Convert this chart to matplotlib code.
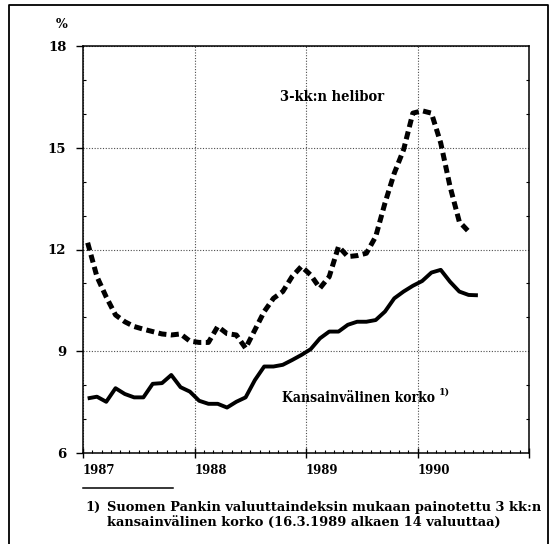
import numpy as np
import matplotlib
matplotlib.use("Agg")
import matplotlib.pyplot as plt
from matplotlib.lines import Line2D
from matplotlib.ticker import MultipleLocator

# Monthly averages, Jan 1987 onwards (%)
helibor = [12.2, 11.2, 10.6, 10.07, 9.87, 9.73, 9.65, 9.58, 9.51, 9.48, 9.51, 9.3,
           9.26, 9.26, 9.73, 9.52, 9.48, 9.09, 9.63, 10.17, 10.56, 10.76, 11.2, 11.5,
           11.25, 10.86, 11.2, 12.09, 11.79, 11.82, 11.89, 12.38, 13.37, 14.25, 14.94, 16.02,
           16.09, 16.02, 15.14, 13.86, 12.82, 12.53]
kansainvalinen = [7.61, 7.66, 7.51, 7.91, 7.74, 7.64, 7.64, 8.04, 8.06, 8.3, 7.94, 7.81,
                  7.54, 7.45, 7.45, 7.34, 7.51, 7.64, 8.15, 8.55, 8.55, 8.6, 8.74, 8.89,
                  9.06, 9.38, 9.58, 9.58, 9.78, 9.87, 9.87, 9.92, 10.17, 10.56, 10.76, 10.93,
                  11.07, 11.32, 11.4, 11.05, 10.76, 10.66, 10.65]
years = [1987, 1988, 1989, 1990]
y_ticks = [6, 9, 12, 15, 18]

def month_x(values):
    # plot each monthly value at the middle of its month
    return 1987 + (np.arange(len(values)) + 0.5) / 12

serif = "DejaVu Serif"
W, H = 554, 544
fig = plt.figure(figsize=(W / 100, H / 100), dpi=100)
ax = fig.add_axes([83 / W, 1 - 453 / H, 446 / W, 407 / H])

ax.plot(month_x(helibor), helibor, color="black", lw=3.6,
        linestyle=(0, (1.6, 0.9)), dash_capstyle="butt", solid_joinstyle="round")
ax.plot(month_x(kansainvalinen), kansainvalinen, color="black", lw=2.8,
        solid_joinstyle="round", solid_capstyle="butt")

ax.set_xlim(1987, 1991)
ax.set_ylim(6, 18)
ax.set_xticks(years + [1991])
ax.set_xticklabels([str(y) for y in years] + [""], fontfamily=serif,
                   fontweight="bold", fontsize=8.5, ha="left")
ax.xaxis.set_minor_locator(MultipleLocator(1 / 12))
ax.set_yticks(y_ticks)
ax.set_yticklabels([str(v) for v in y_ticks], fontfamily=serif,
                   fontweight="bold", fontsize=9.5)
ax.yaxis.set_minor_locator(MultipleLocator(1))

ax.tick_params(axis="x", which="major", direction="inout", length=6.5, width=1, pad=5)
ax.tick_params(axis="x", which="minor", direction="in", length=2.2, width=0.8)
ax.tick_params(axis="y", which="major", direction="out", length=5, width=1, pad=7)
ax.tick_params(axis="y", which="minor", direction="in", length=2.2, width=0.8,
               right=True)
# nudge the year labels a little to the right of their ticks
for lab in ax.get_xticklabels():
    lab.set_x(lab.get_position()[0] + 0.015)

ax.grid(True, which="major", color="0.3", lw=0.8, linestyle=(0, (1, 1.5)))
for sp in ax.spines.values():
    sp.set_linewidth(1.1)

ax.text(1988.77, 16.5, "3-kk:n helibor", fontfamily=serif, fontstretch="condensed",
        fontweight="bold", fontsize=10.5, va="center", ha="left")
ax.text(1988.785, 7.62, "Kansainvälinen korko", fontfamily=serif,
        fontstretch="condensed", fontweight="bold", fontsize=10,
        va="center", ha="left")
ax.text(1990.19, 7.8, "1)", fontfamily=serif, fontweight="bold", fontsize=7,
        va="center", ha="left")

fig.text(62 / W, 1 - 24 / H, "%", fontfamily=serif, fontweight="bold",
         fontsize=9, ha="center", va="center")

# footnote with its short rule
fig.add_artist(Line2D([83 / W, 173 / W], [1 - 488 / H] * 2, color="black", lw=1.1))
fig.text(85 / W, 1 - 507 / H, "1)", fontfamily=serif, fontweight="bold",
         fontsize=9.4, va="center", ha="left")
fig.text(107 / W, 1 - 507 / H, "Suomen Pankin valuuttaindeksin mukaan painotettu 3 kk:n",
         fontfamily=serif, fontweight="bold", fontsize=9.4, va="center", ha="left")
fig.text(107 / W, 1 - 522 / H, "kansainvälinen korko (16.3.1989 alkaen 14 valuuttaa)",
         fontfamily=serif, fontweight="bold", fontsize=9.4, va="center", ha="left")

# outer frame (open at the bottom)
fx0, fx1, fy = 9 / W, 548 / W, 1 - 5 / H
fig.add_artist(Line2D([fx0, fx0, fx1, fx1], [0, fy, fy, 0], color="black", lw=1.3))

fig.savefig("out.png", dpi=100)
